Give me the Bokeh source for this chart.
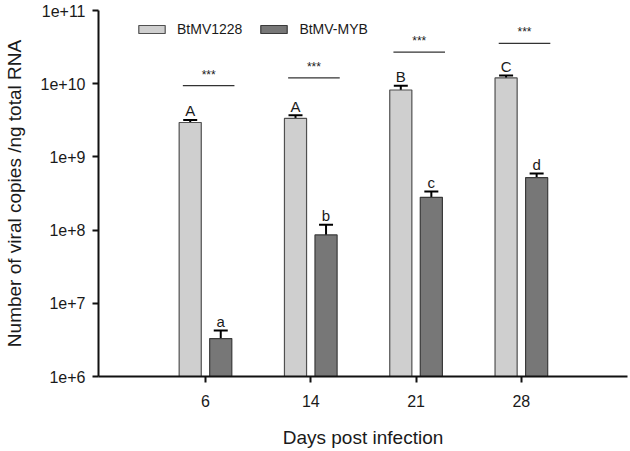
import numpy as np
from bokeh.plotting import figure
from bokeh.models import (ColumnDataSource, Range1d, FixedTicker, Whisker, TeeHead,
                          Legend, LegendItem)
from bokeh.core.properties import value
from bokeh.embed import file_html
from bokeh.resources import INLINE

# ---- data ----
days = ["6", "14", "21", "28"]
series = ["BtMV1228", "BtMV-MYB"]
wt_mean = [2.95e9, 3.35e9, 8.2e9, 1.2e10]
wt_upper = [3.2e9, 3.7e9, 9.4e9, 1.29e10]
myb_mean = [3.3e6, 8.6e7, 2.8e8, 5.2e8]
myb_upper = [4.25e6, 1.18e8, 3.37e8, 5.95e8]
wt_letters = ["A", "A", "B", "C"]
myb_letters = ["a", "b", "c", "d"]
sig_y = [9.4e9, 1.2e10, 2.7e10, 3.55e10]
sig_text = ["***", "***", "***", "***"]
y_ticks = [1e6, 1e7, 1e8, 1e9, 1e10, 1e11]
y_tick_labels = ["1e+6", "1e+7", "1e+8", "1e+9", "1e+10", "1e+11"]
x_title = "Days post infection"
y_title = "Number of viral copies /ng total RNA"

FONT = "Liberation Sans"
TXT = "#1a1a1a"
base = y_ticks[0]

pos = np.arange(1, len(days) + 1)
off = 0.145
bw = 0.21

wt_src = ColumnDataSource(dict(x=pos - off, mean=wt_mean, upper=wt_upper, lab=wt_letters))
myb_src = ColumnDataSource(dict(x=pos + off, mean=myb_mean, upper=myb_upper, lab=myb_letters))
sig_src = ColumnDataSource(dict(x=pos + 0.03, x0=pos + 0.03 - 0.245, x1=pos + 0.03 + 0.245,
                                y=sig_y, t=sig_text))

W, H = 630, 451
B_LEFT, B_RIGHT, B_TOP, B_BOTTOM = 98, 3, 10, 75

p = figure(width=W, height=H, x_range=Range1d(-0.016, 5.008),
           y_range=Range1d(y_ticks[0], y_ticks[-1]), y_axis_type="log",
           output_backend="svg", toolbar_location=None,
           min_border_left=B_LEFT, min_border_right=B_RIGHT,
           min_border_top=B_TOP, min_border_bottom=B_BOTTOM)
p.outline_line_color = None
p.xgrid.grid_line_color = None
p.ygrid.grid_line_color = None
p.background_fill_color = "white"
p.border_fill_color = "white"

r1 = p.vbar(x="x", top="mean", bottom=base, width=bw, source=wt_src,
            fill_color="#cfcfcf", line_color="#505050", line_width=1.2)
r2 = p.vbar(x="x", top="mean", bottom=base, width=bw, source=myb_src,
            fill_color="#777777", line_color="#3a3a3a", line_width=1.2)

for src in (wt_src, myb_src):
    w = Whisker(source=src, base="x", upper="upper", lower="mean", dimension="height",
                line_color="black", line_width=2,
                upper_head=TeeHead(size=14, line_width=2, line_color="black"),
                lower_head=None)
    p.add_layout(w)
    p.text(x="x", y="upper", text="lab", source=src, text_align="center",
           text_baseline="alphabetic", y_offset=-9, text_font=value(FONT),
           text_font_size="15px", text_color=TXT)

p.segment(x0="x0", x1="x1", y0="y", y1="y", source=sig_src, line_color="#333333", line_width=1.3)
p.text(x="x", y="y", text="t", source=sig_src, text_align="center", text_baseline="alphabetic",
       y_offset=-11, text_font=value(FONT), text_font_size="12px", text_color=TXT)

# axes
p.xaxis.ticker = FixedTicker(ticks=list(pos), minor_ticks=[])
p.xaxis.major_label_overrides = {int(k): d for k, d in zip(pos, days)}
p.yaxis.ticker = FixedTicker(ticks=y_ticks, minor_ticks=[])
p.yaxis.major_label_overrides = {t: l for t, l in zip(y_ticks, y_tick_labels)}
p.xaxis.axis_label = x_title
p.yaxis.axis_label = y_title
for ax in (p.xaxis[0], p.yaxis[0]):
    ax.axis_line_width = 2
    ax.axis_line_color = "#111111"
    ax.major_tick_line_width = 2
    ax.major_tick_line_color = "#111111"
    ax.major_tick_out = 6
    ax.major_tick_in = 0
    ax.minor_tick_out = 0
    ax.minor_tick_in = 0
    ax.major_label_text_font = FONT
    ax.major_label_text_font_size = "16px"
    ax.major_label_text_color = TXT
    ax.axis_label_text_font = FONT
    ax.axis_label_text_font_size = "19px"
    ax.axis_label_text_font_style = "normal"
    ax.axis_label_text_color = TXT
p.xaxis.major_label_standoff = 12
p.xaxis.axis_label_standoff = 17
p.yaxis.major_label_standoff = 7
p.yaxis.axis_label_standoff = 13

# legend: bottom-left corner in frame pixels
frame_h = H - B_TOP - B_BOTTOM
legend = Legend(items=[LegendItem(label=series[0], renderers=[r1]),
                       LegendItem(label=series[1], renderers=[r2])],
                orientation="horizontal", location=(37, frame_h - 27),
                glyph_width=33, glyph_height=10, label_standoff=9, spacing=15,
                padding=0, margin=0, border_line_color=None, background_fill_alpha=0,
                label_text_font=FONT, label_text_font_size="14px", label_text_color=TXT,
                label_height=14)
p.add_layout(legend)

open("out.html", "w").write(file_html(p, INLINE))
